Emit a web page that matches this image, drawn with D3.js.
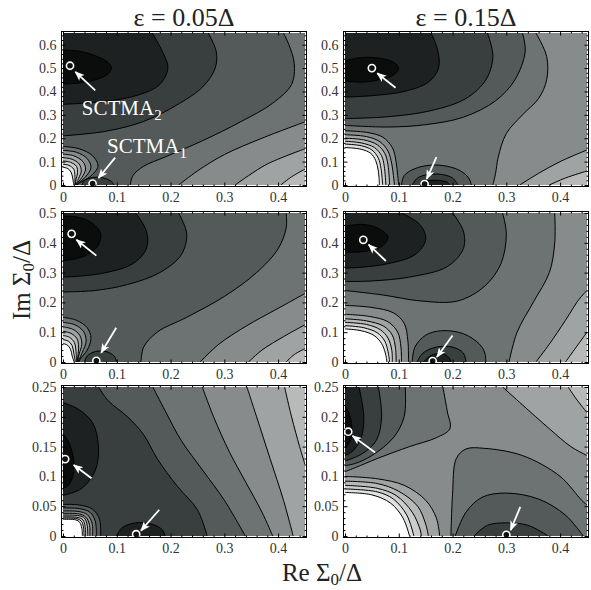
<!DOCTYPE html>
<html><head><meta charset="utf-8">
<script src="https://cdn.jsdelivr.net/npm/d3@7"></script>
<style>body{margin:0;background:#fff}</style>
</head><body>
<svg id="chart" width="591" height="590"></svg>
<script>
// ---------- data ----------
const columnTitles = ["ε = 0.05Δ", "ε = 0.15Δ"];
const xDomain = [0, 0.45];
const xTicks = [0, 0.1, 0.2, 0.3, 0.4];
const yDomainTop = [0, 0.65], yDomainMiddle = [0, 0.5], yDomainBottom = [0, 0.25];
const yTicksTop = [0, 0.1, 0.2, 0.3, 0.4, 0.5, 0.6];
const yTicksMiddle = [0, 0.1, 0.2, 0.3, 0.4, 0.5];
const yTicksBottom = [0, 0.05, 0.1, 0.15, 0.2, 0.25];

// Isolines in (Re, Im) units; "level" is the shade index of the region enclosed
// by the line together with the listed frame corners.
const isoA = [
  {level:2, close:"TL", pts:[[0.27,0.65],[0.285,0.57],[0.283,0.5],[0.26,0.42],[0.21,0.34],[0.15,0.272],[0.08,0.23],[0,0.21]]},
  {level:1, close:"TL", pts:[[0.166,0.65],[0.185,0.57],[0.195,0.5],[0.18,0.43],[0.14,0.385],[0.08,0.358],[0,0.345]]},
  {level:0, close:"", pts:[[0,0.577],[0.03,0.572],[0.06,0.553],[0.083,0.525],[0.09,0.5],[0.082,0.472],[0.06,0.45],[0.03,0.436],[0,0.432]]},
  {level:2, close:"", pts:[[0.035,0],[0.04,0.02],[0.055,0.032],[0.075,0.03],[0.09,0.015],[0.095,0]]},
  {level:4, close:"BR,TR", pts:[[0.41,0.65],[0.42,0.6],[0.43,0.52],[0.425,0.43],[0.39,0.35],[0.33,0.27],[0.26,0.19],[0.19,0.12],[0.15,0.08],[0.13,0.04],[0.125,0]]},
  {level:5, close:"BR", pts:[[0.215,0],[0.25,0.06],[0.3,0.13],[0.37,0.2],[0.45,0.27]]},
  {level:6, close:"BR", pts:[[0.32,0],[0.345,0.04],[0.38,0.09],[0.45,0.155]]},
  {level:7, close:"BR", pts:[[0.405,0],[0.425,0.035],[0.45,0.068]]},
  {level:4, close:"BL", pts:[[0,0.165],[0.03,0.155],[0.055,0.125],[0.065,0.08],[0.05,0.035],[0.03,0.008],[0.026,0]]},
  {level:5, close:"BL", pts:[[0,0.148],[0.025,0.14],[0.045,0.113],[0.052,0.075],[0.042,0.035],[0.028,0.007],[0.025,0]]},
  {level:6, close:"BL", pts:[[0,0.132],[0.02,0.125],[0.037,0.1],[0.042,0.068],[0.035,0.032],[0.026,0.006],[0.024,0]]},
  {level:7, close:"BL", pts:[[0,0.117],[0.017,0.11],[0.03,0.09],[0.034,0.06],[0.029,0.028],[0.024,0]]},
  {level:8, close:"BL", pts:[[0,0.103],[0.014,0.097],[0.025,0.08],[0.027,0.052],[0.024,0.022],[0.023,0]]},
  {level:9, close:"BL", pts:[[0,0.089],[0.011,0.084],[0.02,0.068],[0.022,0.044],[0.022,0]]},
  {level:10, close:"BL", pts:[[0,0.076],[0.009,0.07],[0.015,0.055],[0.018,0.03],[0.02,0]]}
];
const isoB = [
  {level:3, close:"TL", pts:[[0.33,0.65],[0.335,0.57],[0.316,0.45],[0.28,0.36],[0.22,0.29],[0.15,0.258],[0.08,0.248],[0,0.255]]},
  {level:2, close:"TL", pts:[[0.265,0.65],[0.275,0.55],[0.262,0.45],[0.225,0.37],[0.16,0.318],[0.08,0.292],[0,0.284]]},
  {level:1, close:"TL", pts:[[0.16,0.65],[0.172,0.58],[0.174,0.5],[0.155,0.44],[0.11,0.4],[0.05,0.382],[0,0.376]]},
  {level:0, close:"", pts:[[0,0.53],[0.03,0.545],[0.065,0.542],[0.09,0.525],[0.1,0.5],[0.09,0.47],[0.06,0.448],[0.03,0.44],[0,0.445]]},
  {level:3, close:"", pts:[[0.105,0],[0.11,0.04],[0.13,0.07],[0.16,0.085],[0.19,0.08],[0.215,0.06],[0.23,0.03],[0.235,0]]},
  {level:2, close:"", pts:[[0.125,0],[0.135,0.03],[0.155,0.045],[0.18,0.045],[0.2,0.03],[0.21,0]]},
  {level:1, close:"", pts:[[0.14,0],[0.15,0.015],[0.17,0.02],[0.19,0.012],[0.195,0]]},
  {level:5, close:"BR,TR", pts:[[0.355,0.65],[0.375,0.55],[0.375,0.45],[0.36,0.37],[0.33,0.3],[0.3,0.22],[0.285,0.12],[0.28,0.05],[0.275,0]]},
  {level:6, close:"BR", pts:[[0.325,0],[0.36,0.05],[0.4,0.1],[0.45,0.15]]},
  {level:7, close:"BR", pts:[[0.38,0],[0.41,0.03],[0.45,0.06]]},
  {level:5, close:"BL", pts:[[0,0.232],[0.04,0.225],[0.07,0.205],[0.088,0.16],[0.095,0.1],[0.098,0.04],[0.1,0]]},
  {level:6, close:"BL", pts:[[0,0.215],[0.04,0.207],[0.065,0.185],[0.08,0.145],[0.087,0.09],[0.09,0.04],[0.092,0]]},
  {level:7, close:"BL", pts:[[0,0.2],[0.035,0.193],[0.06,0.172],[0.074,0.135],[0.08,0.085],[0.083,0]]},
  {level:8, close:"BL", pts:[[0,0.187],[0.03,0.18],[0.055,0.16],[0.068,0.125],[0.073,0.08],[0.076,0]]},
  {level:9, close:"BL", pts:[[0,0.175],[0.03,0.168],[0.05,0.15],[0.062,0.115],[0.067,0.07],[0.07,0]]},
  {level:10, close:"BL", pts:[[0,0.16],[0.03,0.153],[0.048,0.135],[0.057,0.105],[0.062,0.06],[0.064,0]]}
];
const isoC = [
  {level:2, close:"TL", pts:[[0.215,0.5],[0.23,0.43],[0.22,0.36],[0.18,0.3],[0.12,0.26],[0.06,0.24],[0,0.235]]},
  {level:1, close:"TL", pts:[[0.135,0.5],[0.155,0.44],[0.155,0.38],[0.13,0.33],[0.08,0.3],[0.03,0.288],[0,0.285]]},
  {level:0, close:"", pts:[[0,0.49],[0.03,0.485],[0.055,0.465],[0.07,0.43],[0.065,0.39],[0.045,0.36],[0.02,0.345],[0,0.34]]},
  {level:2, close:"", pts:[[0.04,0],[0.045,0.02],[0.06,0.035],[0.08,0.035],[0.095,0.02],[0.1,0]]},
  {level:4, close:"BR,TR", pts:[[0.415,0.5],[0.415,0.45],[0.4,0.38],[0.36,0.3],[0.3,0.22],[0.23,0.15],[0.175,0.1],[0.15,0.05],[0.145,0]]},
  {level:5, close:"BR", pts:[[0.255,0],[0.29,0.06],[0.34,0.12],[0.4,0.18],[0.45,0.23]]},
  {level:6, close:"BR", pts:[[0.345,0],[0.37,0.04],[0.41,0.085],[0.45,0.125]]},
  {level:7, close:"BR", pts:[[0.415,0],[0.43,0.025],[0.45,0.045]]},
  {level:4, close:"BL", pts:[[0,0.15],[0.025,0.14],[0.045,0.115],[0.052,0.08],[0.045,0.04],[0.032,0.01],[0.029,0]]},
  {level:5, close:"BL", pts:[[0,0.133],[0.022,0.125],[0.038,0.103],[0.043,0.07],[0.036,0.033],[0.028,0]]},
  {level:6, close:"BL", pts:[[0,0.118],[0.018,0.11],[0.031,0.09],[0.035,0.06],[0.03,0.027],[0.027,0]]},
  {level:7, close:"BL", pts:[[0,0.103],[0.015,0.096],[0.026,0.078],[0.029,0.05],[0.026,0]]},
  {level:8, close:"BL", pts:[[0,0.089],[0.012,0.083],[0.021,0.066],[0.024,0.04],[0.025,0]]},
  {level:9, close:"BL", pts:[[0,0.075],[0.01,0.07],[0.017,0.055],[0.02,0.03],[0.023,0]]},
  {level:10, close:"BL", pts:[[0,0.062],[0.008,0.057],[0.014,0.043],[0.017,0.02],[0.021,0]]}
];
const isoD = [
  {level:3, close:"TL", pts:[[0.293,0.5],[0.3,0.43],[0.29,0.33],[0.26,0.255],[0.21,0.205],[0.14,0.205],[0.07,0.225],[0,0.24]]},
  {level:2, close:"TL", pts:[[0.2,0.5],[0.22,0.44],[0.22,0.38],[0.19,0.32],[0.12,0.285],[0.05,0.272],[0,0.27]]},
  {level:1, close:"TL", pts:[[0.105,0.5],[0.14,0.46],[0.15,0.41],[0.13,0.36],[0.08,0.33],[0.03,0.318],[0,0.315]]},
  {level:0, close:"", pts:[[0,0.455],[0.03,0.462],[0.06,0.45],[0.08,0.42],[0.07,0.39],[0.04,0.372],[0,0.368]]},
  {level:3, close:"", pts:[[0.125,0],[0.13,0.05],[0.15,0.09],[0.18,0.105],[0.22,0.095],[0.25,0.06],[0.26,0.03],[0.262,0]]},
  {level:2, close:"", pts:[[0.134,0],[0.145,0.03],[0.17,0.05],[0.2,0.05],[0.22,0.03],[0.225,0]]},
  {level:1, close:"", pts:[[0.146,0],[0.16,0.022],[0.18,0.028],[0.193,0.015],[0.197,0]]},
  {level:5, close:"BR,TR", pts:[[0.39,0.5],[0.39,0.4],[0.38,0.3],[0.35,0.2],[0.32,0.1],[0.305,0]]},
  {level:6, close:"BR", pts:[[0.355,0],[0.38,0.06],[0.41,0.14],[0.435,0.21],[0.45,0.24]]},
  {level:7, close:"BR", pts:[[0.41,0],[0.43,0.05],[0.45,0.1]]},
  {level:5, close:"BL", pts:[[0,0.19],[0.05,0.183],[0.09,0.165],[0.11,0.13],[0.117,0.07],[0.118,0]]},
  {level:6, close:"BL", pts:[[0,0.16],[0.045,0.153],[0.08,0.135],[0.098,0.1],[0.104,0.05],[0.105,0]]},
  {level:7, close:"BL", pts:[[0,0.145],[0.04,0.138],[0.072,0.12],[0.088,0.09],[0.094,0.045],[0.095,0]]},
  {level:8, close:"BL", pts:[[0,0.133],[0.04,0.126],[0.066,0.108],[0.08,0.08],[0.087,0.04],[0.088,0]]},
  {level:9, close:"BL", pts:[[0,0.122],[0.035,0.115],[0.06,0.098],[0.074,0.07],[0.08,0.035],[0.083,0]]},
  {level:10, close:"BL", pts:[[0,0.111],[0.03,0.105],[0.054,0.089],[0.068,0.062],[0.075,0.03],[0.078,0]]}
];
const isoE = [
  {level:1, close:"", pts:[[0,0.224],[0.03,0.212],[0.055,0.19],[0.066,0.15],[0.06,0.11],[0.035,0.08],[0,0.068]]},
  {level:0, close:"", pts:[[0,0.172],[0.012,0.155],[0.02,0.125],[0.018,0.1],[0.01,0.085],[0,0.08]]},
  {level:1, close:"", pts:[[0.1,0],[0.11,0.014],[0.135,0.022],[0.165,0.02],[0.185,0.01],[0.19,0]]},
  {level:3, close:"BR,TR", pts:[[0.066,0.25],[0.084,0.227],[0.12,0.2],[0.15,0.17],[0.175,0.13],[0.213,0.083],[0.25,0.044],[0.268,0]]},
  {level:4, close:"BR,TR", pts:[[0.167,0.25],[0.19,0.21],[0.22,0.16],[0.26,0.11],[0.3,0.06],[0.339,0]]},
  {level:5, close:"BR,TR", pts:[[0.259,0.25],[0.28,0.2],[0.31,0.14],[0.34,0.09],[0.37,0.04],[0.39,0]]},
  {level:6, close:"BR,TR", pts:[[0.342,0.25],[0.36,0.2],[0.385,0.13],[0.41,0.06],[0.428,0]]},
  {level:7, close:"TR", pts:[[0.412,0.25],[0.425,0.2],[0.44,0.15],[0.45,0.12]]},
  {level:3, close:"BL", pts:[[0,0.053],[0.03,0.052],[0.055,0.045],[0.068,0.028],[0.07,0]]},
  {level:4, close:"BL", pts:[[0,0.047],[0.03,0.046],[0.05,0.04],[0.06,0.025],[0.062,0]]},
  {level:5, close:"BL", pts:[[0,0.042],[0.03,0.041],[0.045,0.036],[0.054,0.022],[0.055,0]]},
  {level:6, close:"BL", pts:[[0,0.038],[0.03,0.037],[0.042,0.032],[0.049,0.02],[0.05,0]]},
  {level:7, close:"BL", pts:[[0,0.035],[0.03,0.034],[0.04,0.03],[0.045,0.018],[0.046,0]]},
  {level:8, close:"BL", pts:[[0,0.032],[0.028,0.031],[0.037,0.027],[0.041,0.016],[0.042,0]]},
  {level:9, close:"BL", pts:[[0,0.03],[0.026,0.029],[0.034,0.025],[0.038,0.015],[0.039,0]]},
  {level:10, close:"BL", pts:[[0,0.028],[0.024,0.027],[0.031,0.023],[0.035,0.013],[0.036,0]]}
];
const isoF = [
  {level:4, close:"TL", pts:[[0.182,0.25],[0.19,0.21],[0.195,0.18],[0.17,0.165],[0.12,0.15],[0.06,0.13],[0.02,0.115],[0,0.108]]},
  {level:3, close:"TL", pts:[[0.112,0.25],[0.11,0.2],[0.09,0.165],[0.05,0.135],[0.02,0.122],[0,0.118]]},
  {level:2, close:"TL", pts:[[0.062,0.25],[0.068,0.2],[0.058,0.16],[0.03,0.137],[0,0.126]]},
  {level:1, close:"TL", pts:[[0.026,0.25],[0.035,0.2],[0.03,0.165],[0.015,0.143],[0,0.135]]},
  {level:0, close:"", pts:[[0,0.218],[0.008,0.205],[0.013,0.18],[0.01,0.16],[0,0.148]]},
  {level:4, close:"BR", pts:[[0.197,0],[0.2,0.07],[0.207,0.13],[0.225,0.146],[0.26,0.147],[0.33,0.135],[0.4,0.1],[0.44,0.06],[0.45,0.052]]},
  {level:3, close:"", pts:[[0.205,0],[0.225,0.04],[0.255,0.065],[0.3,0.072],[0.36,0.062],[0.41,0.035],[0.443,0]]},
  {level:2, close:"", pts:[[0.24,0],[0.265,0.018],[0.3,0.022],[0.34,0.018],[0.378,0]]},
  {level:6, close:"TR", pts:[[0.293,0.25],[0.33,0.22],[0.38,0.18],[0.42,0.15],[0.45,0.135]]},
  {level:7, close:"TR", pts:[[0.415,0.25],[0.43,0.23],[0.45,0.207]]},
  {level:6, close:"BL", pts:[[0,0.1],[0.06,0.096],[0.11,0.085],[0.15,0.06],[0.17,0.03],[0.176,0]]},
  {level:7, close:"BL", pts:[[0,0.092],[0.06,0.088],[0.1,0.075],[0.135,0.05],[0.15,0.02],[0.155,0]]},
  {level:8, close:"BL", pts:[[0,0.085],[0.06,0.08],[0.095,0.068],[0.125,0.04],[0.14,0.01],[0.142,0]]},
  {level:9, close:"BL", pts:[[0,0.079],[0.06,0.074],[0.09,0.062],[0.115,0.035],[0.128,0]]},
  {level:10, close:"BL", pts:[[0,0.073],[0.05,0.069],[0.085,0.055],[0.108,0.03],[0.12,0]]}
];

// Located solutions (SCTMA2, SCTMA1) per panel and the arrows pointing at them (tail -> head)
const minimaA = [[0.013,0.51],[0.055,0.006]];
const minimaB = [[0.05,0.5],[0.148,0.004]];
const minimaC = [[0.016,0.43],[0.062,0.004]];
const minimaD = [[0.034,0.41],[0.163,0.003]];
const minimaE = [[0.004,0.129],[0.136,0.003]];
const minimaF = [[0.006,0.175],[0.3,0.002]];
const arrowsA = [[[0.06,0.405],[0.023,0.484]],[[0.097,0.117],[0.066,0.03]]];
const arrowsB = [[[0.094,0.416],[0.06,0.478]],[[0.17,0.119],[0.152,0.026]]];
const arrowsC = [[[0.062,0.357],[0.025,0.41]],[[0.099,0.115],[0.071,0.031]]];
const arrowsD = [[[0.076,0.339],[0.044,0.394]],[[0.2,0.089],[0.171,0.017]]];
const arrowsE = [[[0.053,0.097],[0.02,0.119]],[[0.179,0.044],[0.145,0.009]]];
const arrowsF = [[[0.056,0.14],[0.014,0.168]],[[0.326,0.049],[0.308,0.01]]];
const solutionLabels = [{name:"SCTMA", sub:"2", at:[0.035,0.3]}, {name:"SCTMA", sub:"1", at:[0.082,0.137]}];

// ---------- drawing ----------
const shade = ["#0b0c0c","#1d2121","#393e3e","#545959","#6d7272","#878b8b","#a0a3a3","#b8baba","#cccdcd","#e0e1e1","#ffffff"];
const serif = "'Liberation Serif','Times New Roman',Times,serif";
const svg = d3.select("#chart");
const colX = [[63,305],[345,587]];
const rowY = [[185,33],[362,213],[536,387]];

const panels = [
  {row:0,col:0,yDomain:yDomainTop,yTicks:yTicksTop,yMinor:0.02,base:3,iso:isoA,minima:minimaA,arrows:arrowsA,labels:true},
  {row:0,col:1,yDomain:yDomainTop,yTicks:yTicksTop,yMinor:0.02,base:4,iso:isoB,minima:minimaB,arrows:arrowsB},
  {row:1,col:0,yDomain:yDomainMiddle,yTicks:yTicksMiddle,yMinor:0.02,base:3,iso:isoC,minima:minimaC,arrows:arrowsC},
  {row:1,col:1,yDomain:yDomainMiddle,yTicks:yTicksMiddle,yMinor:0.02,base:4,iso:isoD,minima:minimaD,arrows:arrowsD},
  {row:2,col:0,yDomain:yDomainBottom,yTicks:yTicksBottom,yMinor:0.01,base:2,iso:isoE,minima:minimaE,arrows:arrowsE},
  {row:2,col:1,yDomain:yDomainBottom,yTicks:yTicksBottom,yMinor:0.01,base:5,iso:isoF,minima:minimaF,arrows:arrowsF}
];

const defs = svg.append("defs");
defs.append("marker").attr("id","head").attr("viewBox","0 0 10 8").attr("refX",9).attr("refY",4)
  .attr("markerWidth",10).attr("markerHeight",8).attr("markerUnits","userSpaceOnUse").attr("orient","auto")
  .append("path").attr("d","M0,0L10,4L0,8L2.5,4Z").attr("fill","#fff");

const fmt = d => d === 0 ? "0" : String(d);

panels.forEach((p, i) => {
  const [x0, x1] = colX[p.col], [y0, y1] = rowY[p.row];
  const x = d3.scaleLinear().domain(xDomain).range([x0, x1]);
  const y = d3.scaleLinear().domain(p.yDomain).range([y0, y1]);
  const corner = {TL:[xDomain[0],p.yDomain[1]], TR:[xDomain[1],p.yDomain[1]], BL:[xDomain[0],p.yDomain[0]], BR:[xDomain[1],p.yDomain[0]]};

  defs.append("clipPath").attr("id","clip"+i).append("rect")
    .attr("x",x0).attr("y",y1).attr("width",x1-x0).attr("height",y0-y1);
  const plot = svg.append("g").attr("clip-path",`url(#clip${i})`);
  plot.append("rect").attr("x",x0).attr("y",y1).attr("width",x1-x0).attr("height",y0-y1).attr("fill",shade[p.base]);

  const line = d3.line().x(d => x(d[0])).y(d => y(d[1])).curve(d3.curveCatmullRom.alpha(0.5));
  p.iso.forEach(c => {
    let d = line(c.pts);
    c.close.split(",").filter(Boolean).forEach(k => { d += `L${x(corner[k][0])},${y(corner[k][1])}`; });
    plot.append("path").attr("d", d + "Z").attr("fill", shade[c.level]);
  });
  p.iso.forEach(c => {
    plot.append("path").attr("d", line(c.pts)).attr("fill","none").attr("stroke","#000").attr("stroke-width",1);
  });

  // arrows and solution markers
  p.arrows.forEach(a => {
    plot.append("line").attr("x1",x(a[0][0])).attr("y1",y(a[0][1])).attr("x2",x(a[1][0])).attr("y2",y(a[1][1]))
      .attr("stroke","#fff").attr("stroke-width",1.8).attr("marker-end","url(#head)");
  });
  p.minima.forEach(m => {
    svg.append("circle").attr("cx",x(m[0])).attr("cy",y(m[1])).attr("r",3.6)
      .attr("fill","#111").attr("stroke","#fff").attr("stroke-width",1.6);
  });
  if (p.labels) {
    solutionLabels.forEach(l => {
      const t = svg.append("text").attr("x",x(l.at[0])).attr("y",y(l.at[1]))
        .attr("font-family",serif).attr("font-size",21).attr("fill","#fff");
      t.append("tspan").text(l.name);
      t.append("tspan").attr("dy",5).attr("font-size",15).text(l.sub);
    });
  }

  // frame with inward ticks
  const pad = 1.5;
  const fb = y0 + pad, ft = y1 - pad, fl = x0 - pad, fr = x1 + pad;
  const xMinor = d3.range(0, 0.4501, 0.02).filter(v => !xTicks.some(t => Math.abs(t - v) < 1e-9));
  const yMinor = d3.range(p.yDomain[0], p.yDomain[1] + 1e-9, p.yMinor).filter(v => !p.yTicks.some(t => Math.abs(t - v) < 1e-9));
  const style = g => {
    g.select(".domain").remove();
    g.selectAll("line").attr("stroke","#000");
    g.selectAll("text").attr("font-family",serif).attr("font-size",14).attr("fill","#333");
  };
  svg.append("g").attr("transform",`translate(0,${fb})`).call(d3.axisBottom(x).tickValues(xTicks).tickFormat(fmt).tickSize(-4).tickPadding(6)).call(style);
  svg.append("g").attr("transform",`translate(0,${fb})`).call(d3.axisBottom(x).tickValues(xMinor).tickFormat("").tickSize(-2)).call(style);
  svg.append("g").attr("transform",`translate(0,${ft})`).call(d3.axisTop(x).tickValues(xTicks).tickFormat("").tickSize(-4)).call(style);
  svg.append("g").attr("transform",`translate(0,${ft})`).call(d3.axisTop(x).tickValues(xMinor).tickFormat("").tickSize(-2)).call(style);
  svg.append("g").attr("transform",`translate(${fl},0)`).call(d3.axisLeft(y).tickValues(p.yTicks).tickFormat(fmt).tickSize(-4).tickPadding(5)).call(style);
  svg.append("g").attr("transform",`translate(${fl},0)`).call(d3.axisLeft(y).tickValues(yMinor).tickFormat("").tickSize(-2)).call(style);
  svg.append("g").attr("transform",`translate(${fr},0)`).call(d3.axisRight(y).tickValues(p.yTicks).tickFormat("").tickSize(-4)).call(style);
  svg.append("g").attr("transform",`translate(${fr},0)`).call(d3.axisRight(y).tickValues(yMinor).tickFormat("").tickSize(-2)).call(style);
  svg.append("rect").attr("x",fl).attr("y",ft).attr("width",fr-fl).attr("height",fb-ft)
    .attr("fill","none").attr("stroke","#000").attr("stroke-width",1);

  if (p.row === 0) {
    svg.append("text").attr("x",(x0+x1)/2).attr("y",26).attr("text-anchor","middle")
      .attr("font-family",serif).attr("font-size",26).attr("fill","#222").text(columnTitles[p.col]);
  }
});

// axis titles
const xt = svg.append("text").attr("x",322).attr("y",581).attr("text-anchor","middle")
  .attr("font-family",serif).attr("font-size",25).attr("fill","#222");
xt.append("tspan").text("Re Σ");
xt.append("tspan").attr("dy",4).attr("font-size",17).text("0");
xt.append("tspan").attr("dy",-4).text("/Δ");

const yt = svg.append("text").attr("transform","translate(30,280) rotate(-90)").attr("text-anchor","middle")
  .attr("font-family",serif).attr("font-size",25).attr("fill","#222");
yt.append("tspan").text("Im Σ");
yt.append("tspan").attr("dy",4).attr("font-size",17).text("0");
yt.append("tspan").attr("dy",-4).text("/Δ");
</script>
</body></html>
